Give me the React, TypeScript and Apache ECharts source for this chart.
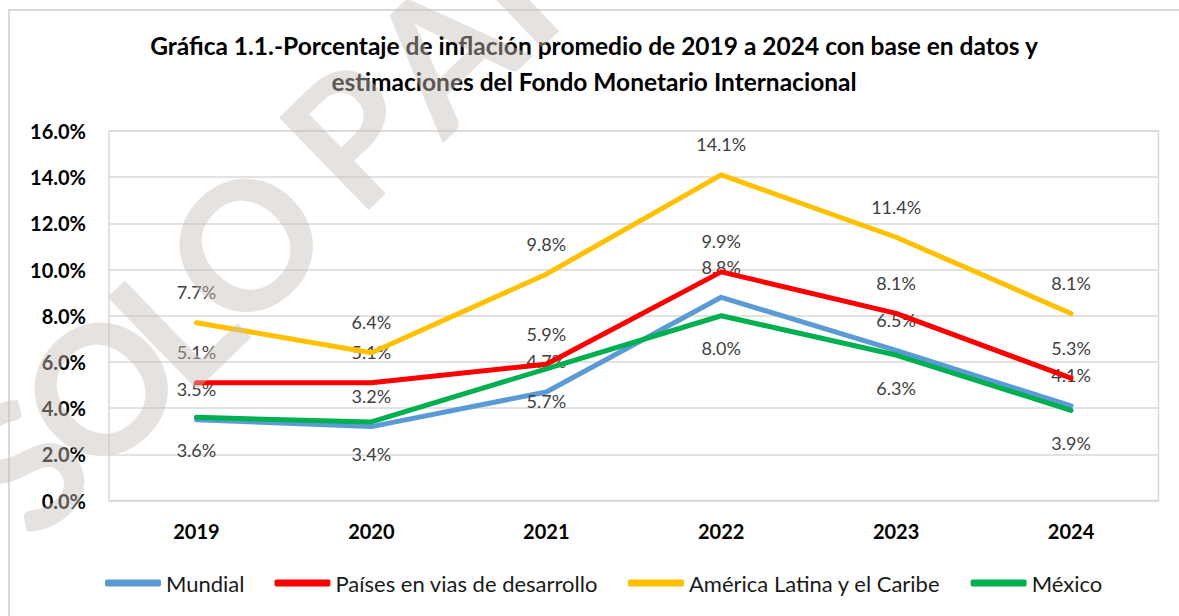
import React, { useEffect, useRef } from "react";
import * as echarts from "echarts";

const years = ["2019", "2020", "2021", "2022", "2023", "2024"];
const seriesNames = [
  "Mundial",
  "Países en vias de desarrollo",
  "América Latina y el Caribe",
  "México",
];
const mundial = [3.5, 3.2, 4.7, 8.8, 6.5, 4.1];
const paises = [5.1, 5.1, 5.9, 9.9, 8.1, 5.3];
const america = [7.7, 6.4, 9.8, 14.1, 11.4, 8.1];
const mexico = [3.6, 3.4, 5.7, 8.0, 6.3, 3.9];
const colors = ["#5b9bd5", "#ff0000", "#ffc000", "#00b050"];
const labelPositions = ["top", "top", "top", "bottom"];
const titleText =
  "Gráfica 1.1.-Porcentaje de inflación promedio de 2019 a 2024 con base en datos y\nestimaciones del Fondo Monetario Internacional";
const watermarkLetters = ["S", "O", "L", "O", "P", "A", "R"];
const watermarkX = [22, 98, 172, 243, 350, 440, 525];
const watermarkY = [462, 386, 318, 242, 132, 50, -32];

const FONT = "Lato, 'Open Sans', sans-serif";

export default function App() {
  const ref = useRef<HTMLDivElement>(null);
  useEffect(() => {
    if (!ref.current) return;
    const chart = echarts.init(ref.current, undefined, { renderer: "svg" });
    const allData = [mundial, paises, america, mexico];
    const series = allData.map((d, i) => ({
      name: seriesNames[i],
      type: "line",
      data: d,
      showSymbol: true,
      symbol: "circle",
      symbolSize: 1,
      lineStyle: { width: 5, color: colors[i], cap: "round", join: "round" },
      itemStyle: { color: colors[i] },
      z: 2 + i,
      label: {
        show: true,
        position: labelPositions[i],
        distance: labelPositions[i] === "top" ? 20 : 22,
        formatter: (p: any) => Number(p.value).toFixed(1) + "%",
        fontFamily: FONT,
        fontSize: 18,
        lineHeight: 20,
        color: "#404040",
      },
      labelLayout: { hideOverlap: false },
    }));

    chart.setOption({
      animation: false,
      backgroundColor: "#ffffff",
      textStyle: { fontFamily: FONT },
      title: {
        text: titleText,
        left: 589,
        top: 22,
        textAlign: "center",
        textStyle: {
          fontFamily: FONT,
          fontSize: 24.5,
          fontWeight: "bold",
          color: "#000000",
          lineHeight: 36,
        },
      },
      legend: {
        data: seriesNames,
        top: 566,
        left: 100,
        icon: "roundRect",
        itemWidth: 56,
        itemHeight: 7,
        itemGap: 30,
        textStyle: {
          fontFamily: FONT,
          fontSize: 22,
          color: "#1a1a1a",
          lineHeight: 24,
        },
      },
      grid: {
        left: 109,
        right: 20.5,
        top: 131,
        bottom: 115.5,
        show: true,
        borderColor: "#d9d9d9",
        borderWidth: 1.5,
        backgroundColor: "transparent",
      },
      xAxis: {
        type: "category",
        data: years,
        boundaryGap: true,
        axisTick: { show: false },
        axisLine: { show: true, lineStyle: { color: "#d9d9d9", width: 1.5 } },
        axisLabel: {
          margin: 20,
          fontFamily: FONT,
          fontSize: 20,
          fontWeight: "bold",
          color: "#000000",
        },
      },
      yAxis: {
        type: "value",
        min: 0,
        max: 16,
        interval: 2,
        axisLine: { show: false },
        axisTick: { show: false },
        splitLine: { lineStyle: { color: "#d9d9d9", width: 1.5 } },
        axisLabel: {
          margin: 23,
          fontFamily: FONT,
          fontSize: 20,
          fontWeight: "bold",
          color: "#000000",
          formatter: (v: number) => v.toFixed(1) + "%",
        },
      },
      graphic: [
        {
          type: "rect",
          z: 0,
          silent: true,
          shape: { x: 9, y: 10, width: 1300, height: 800 },
          style: { fill: "none", stroke: "#d9d9d9", lineWidth: 2 },
        },
        ...watermarkLetters.map((ch, i) => ({
          type: "text",
          x: watermarkX[i],
          y: watermarkY[i],
          rotation: (44 * Math.PI) / 180,
          z: 100,
          silent: true,
          style: {
            text: ch,
            fontFamily: FONT,
            fontWeight: "bold",
            fontSize: 178,
            fill: "rgba(200,190,186,0.45)",
            align: "center",
            verticalAlign: "middle",
          },
        })),
      ],
      series,
    });
    return () => chart.dispose();
  }, []);
  return (
    <div
      ref={ref}
      style={{ position: "absolute", left: 0, top: 0, width: 1179, height: 616 }}
    />
  );
}
